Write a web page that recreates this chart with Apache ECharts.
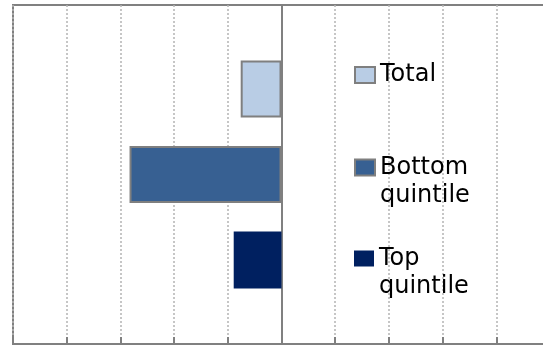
<!DOCTYPE html>
<html>
<head>
<meta charset="utf-8">
<script src="https://cdn.jsdelivr.net/npm/echarts@6/dist/echarts.min.js"></script>
<style>
  html, body { margin: 0; padding: 0; background: #fff; }
  #chart { width: 543px; height: 346px; }
</style>
</head>
<body>
<div id="chart"></div>
<script>
// Change relative to baseline, by group
const seriesNames = ['Total', 'Bottom quintile', 'Top quintile'];
const seriesValues = [-0.76, -2.83, -0.89];
const categories = [''];
const axisMin = -5;
const axisMax = 5;

const fills = ['#B9CDE5', '#376092', '#002060'];
const borders = ['#7F7F7F', '#7F7F7F', null];

const series = seriesNames.map((name, i) => ({
  name: name,
  type: 'bar',
  data: [seriesValues[i]],
  barWidth: 57,
  barGap: '50%',
  itemStyle: {
    color: fills[i],
    borderColor: borders[i] || fills[i],
    borderWidth: borders[i] ? 2 : 0
  },
  emphasis: { disabled: true }
}));

// Two-word names wrap onto a second line; a leading blank line keeps
// the first word level with the swatch.
const wrapName = n => (n.indexOf(' ') >= 0 ? ' \n' + n.replace(' ', '\n') : n);

const legendTops = [61, 125.5, 216.5];
const legends = seriesNames.map((name, i) => ({
  data: [name],
  left: 354,
  top: legendTops[i],
  padding: 0,
  icon: 'rect',
  itemWidth: 20,
  itemHeight: 16,
  selectedMode: false,
  formatter: wrapName,
  textStyle: {
    fontFamily: 'DejaVu Sans',
    fontSize: 24,
    color: '#000',
    lineHeight: 28
  }
}));

const chart = echarts.init(document.getElementById('chart'));
chart.setOption({
  animation: false,
  backgroundColor: '#fff',
  grid: {
    left: 13, top: 5, bottom: 2, width: 537,
    outerBoundsMode: 'none',
    show: true, borderColor: '#808080', borderWidth: 2
  },
  xAxis: {
    type: 'value',
    min: axisMin, max: axisMax, interval: 1,
    axisLine: { show: true, lineStyle: { color: '#808080', width: 2 } },
    axisTick: { show: true, inside: true, length: 7, lineStyle: { color: '#808080', width: 2 } },
    axisLabel: { show: false },
    splitLine: { show: true, lineStyle: { color: '#B4B4B4', width: 1.5, type: [2, 2] } }
  },
  yAxis: {
    type: 'category',
    data: categories,
    axisLine: { show: true, onZero: true, lineStyle: { color: '#808080', width: 2 } },
    axisTick: { show: false },
    axisLabel: { show: false },
    splitLine: { show: false }
  },
  legend: legends,
  series: series
});
</script>
</body>
</html>
